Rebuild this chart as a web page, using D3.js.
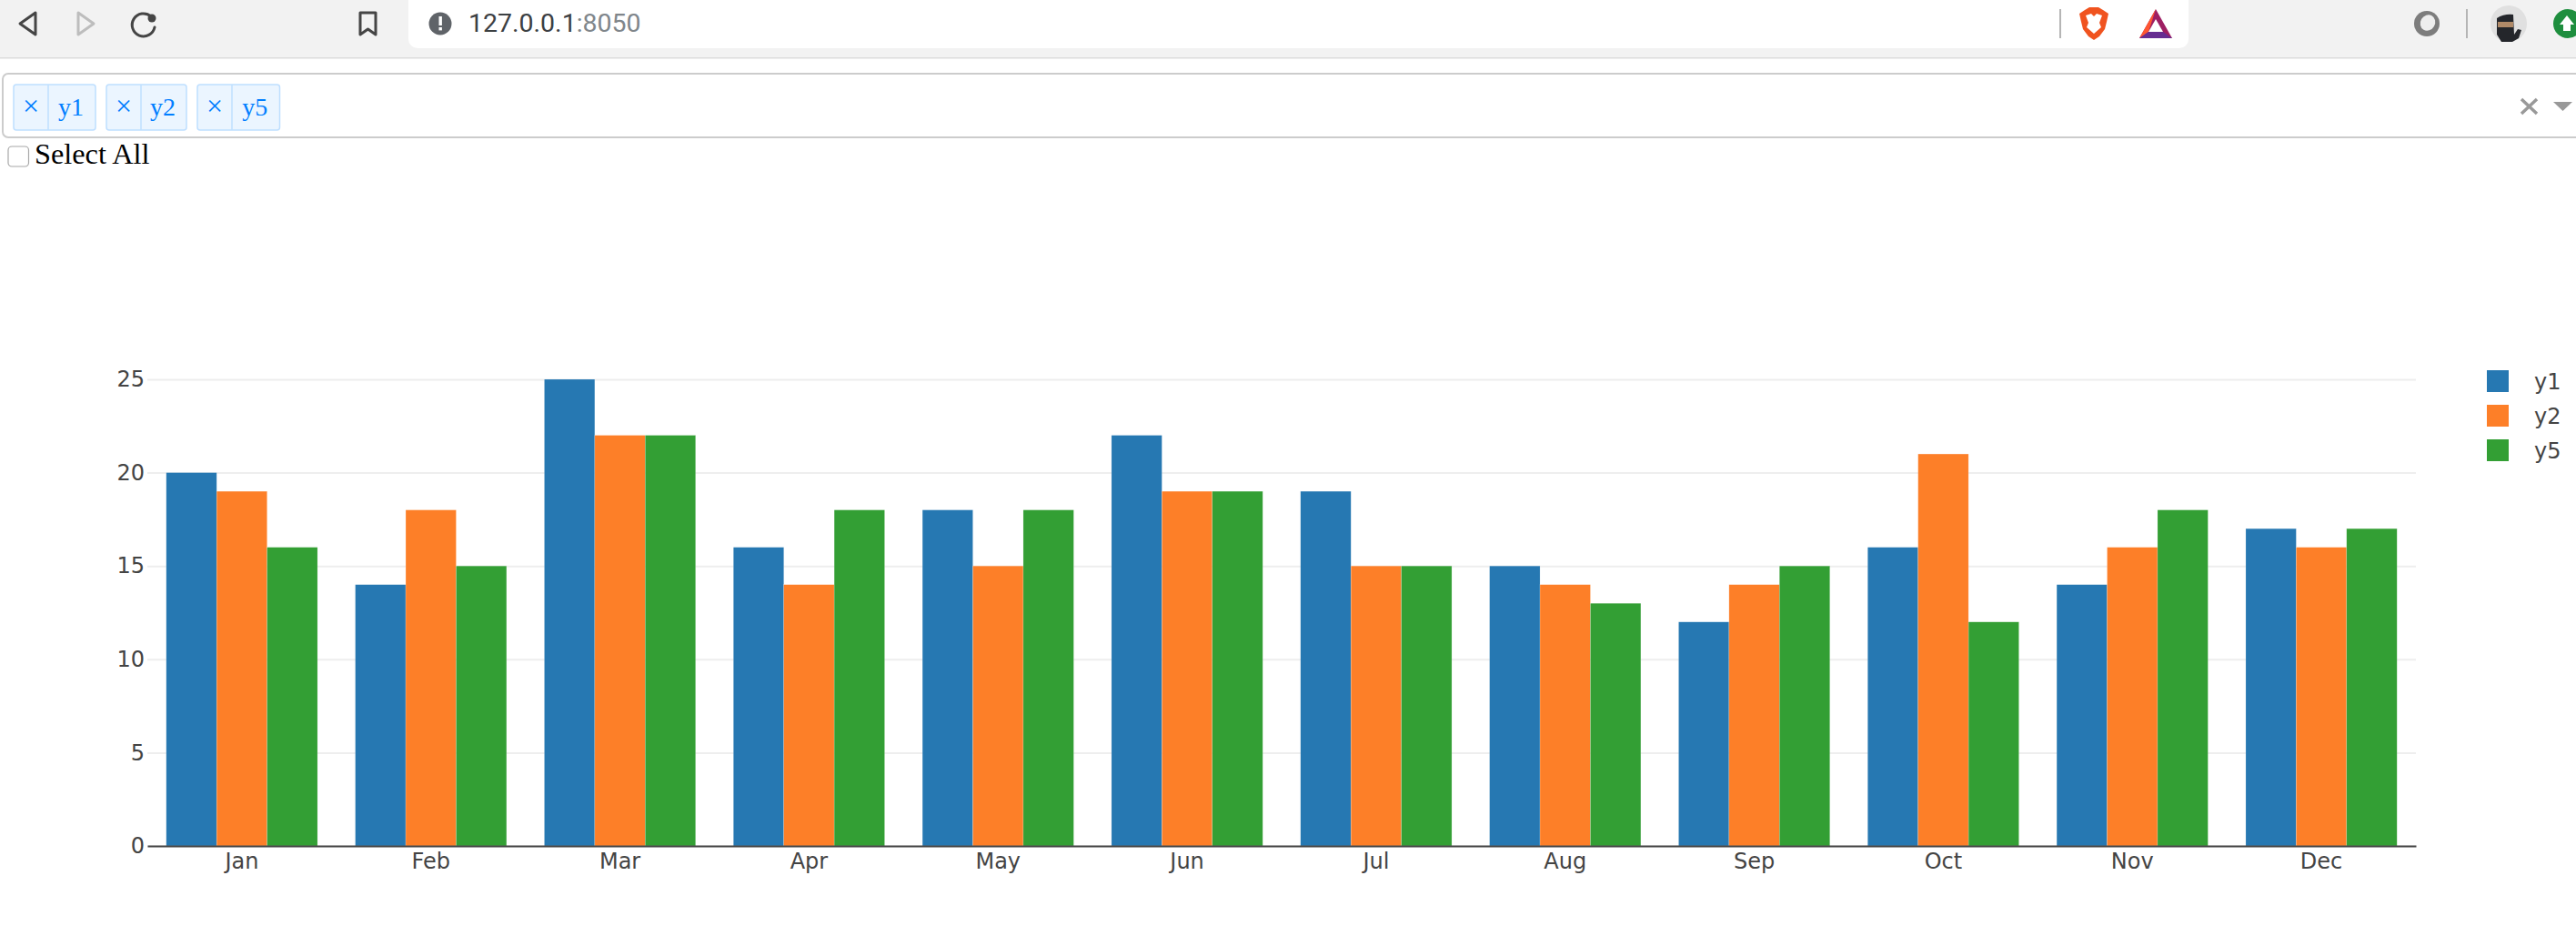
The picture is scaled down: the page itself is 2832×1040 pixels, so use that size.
<!DOCTYPE html>
<html><head><meta charset="utf-8">
<script src="https://cdn.jsdelivr.net/npm/d3@7"></script>
<style>
html,body{margin:0;padding:0;background:#fff;overflow:hidden}
svg{display:block}
.tick text{font-family:"DejaVu Sans",sans-serif;font-size:24px;fill:#444}
</style></head><body>
<svg id="c" width="2832" height="1040"></svg>
<script>
const months=["Jan","Feb","Mar","Apr","May","Jun","Jul","Aug","Sep","Oct","Nov","Dec"];
const seriesNames=["y1","y2","y5"];
const y1=[20,14,25,16,18,22,19,15,12,16,14,17];
const y2=[19,18,22,14,15,19,15,14,14,21,16,16];
const y5=[16,15,22,18,18,19,15,13,15,12,18,17];
const colors=["#2678b2","#fd7f28","#339f34"];
const yTicks=[0,5,10,15,20,25];
const allSeries=[y1,y2,y5];

const svg=d3.select("#c");
// browser chrome
const ch=svg.append("g");
ch.append("rect").attr("width",2832).attr("height",63).attr("fill","#f2f2f2");
ch.append("rect").attr("y",63).attr("width",2832).attr("height",1.5).attr("fill","#dcdcdc");
ch.append("path").attr("d","M449,0H2406V43a10,10 0 0 1 -10,10H459a10,10 0 0 1 -10,-10Z").attr("fill","#fff");
const ic=(d,s,w,f)=>ch.append("path").attr("d",d).attr("fill",f||"none").attr("stroke",s).attr("stroke-width",w).attr("stroke-linejoin","round").attr("stroke-linecap","round");
ic("M39,14 L22,26 L39,38 Z","#454545",3);
ic("M86,14 L103,26 L86,38 Z","#bdbdbd",3);
ic("M166,18 A12.5,12.5 0 1 0 170,30","#454545",3);
ch.append("circle").attr("cx",167).attr("cy",20).attr("r",4.5).attr("fill","#454545");
ic("M396,14 H413 V38 L404.5,32 L396,38 Z","#454545",3);
ch.append("circle").attr("cx",484).attr("cy",26).attr("r",12.5).attr("fill","#5f6368");
ch.append("rect").attr("x",482.5).attr("y",18).attr("width",3.4).attr("height",10).attr("fill","#fff");
ch.append("rect").attr("x",482.5).attr("y",30).attr("width",3.4).attr("height",3.4).attr("fill","#fff");
const url=ch.append("text").attr("x",515).attr("y",35).attr("font-family","Roboto,sans-serif").attr("font-size",28.5);
url.append("tspan").attr("fill","#3c4043").text("127.0.0.1");
url.append("tspan").attr("fill","#80868b").text(":8050");
ch.append("rect").attr("x",2264).attr("y",10).attr("width",2).attr("height",32).attr("fill","#b5b5b5");
ch.append("path").attr("d","M2292,11 L2297,8 H2307 L2312,11 L2318,15 L2316,24 L2314,32 L2308,40 L2302,44 L2296,40 L2290,32 L2288,24 L2286,15 Z").attr("fill","#f0531f");
ch.append("path").attr("d","M2293,17 L2299,15 L2302,18 L2305,15 L2311,17 L2308,25 L2310,30 L2302,37 L2294,30 L2296,25 Z").attr("fill","#fff");
ch.append("path").attr("d","M2370,10 L2352,42 H2388 Z").attr("fill","#9e1f63");
ch.append("path").attr("d","M2370,10 L2352,42 L2362,35 Z").attr("fill","#ff5630");
ch.append("path").attr("d","M2352,42 H2388 L2378,35 H2362 Z").attr("fill","#662d91");
ch.append("path").attr("d","M2370,21 L2378,35 H2362 Z").attr("fill","#fff");
ch.append("circle").attr("cx",2668).attr("cy",26).attr("r",14).attr("fill","#7d7d7d");
ch.append("ellipse").attr("cx",2669).attr("cy",25).attr("rx",8).attr("ry",9).attr("transform","rotate(30 2669 25)").attr("fill","#eee");
ch.append("rect").attr("x",2711).attr("y",10).attr("width",2).attr("height",32).attr("fill","#b5b5b5");
ch.append("ellipse").attr("cx",2758).attr("cy",26).attr("rx",20).attr("ry",20).attr("fill","#e0e0e0");
ch.append("path").attr("d","M2745,20 Q2753,15 2763,16 L2764,38 L2768,32 L2772,33 L2769,42 L2762,46 H2750 L2745,38 Z").attr("fill","#24262b");
ch.append("rect").attr("x",2746).attr("y",24).attr("width",17).attr("height",6).attr("fill","#b08a68");
ch.append("circle").attr("cx",2823).attr("cy",26).attr("r",16).attr("fill","#1e8e3e");
ch.append("path").attr("d","M2822,17 L2830,27 H2826 V34 H2818 V27 H2814 Z").attr("fill","#fff");

// dropdown
const dd=svg.append("g");
dd.append("rect").attr("x",3).attr("y",81).attr("width",2840).attr("height",70).attr("rx",6).attr("fill","#fff").attr("stroke","#ccc").attr("stroke-width",2);
const chipX=[[15,53,105],[117,155,205],[217,255,307.5]];
seriesNames.forEach((n,i)=>{
  const [a,b,c]=chipX[i];
  dd.append("rect").attr("x",a).attr("y",93).attr("width",c-a).attr("height",50).attr("rx",3).attr("fill","#ebf5ff").attr("stroke","#bfdfff").attr("stroke-width",1.5);
  dd.append("line").attr("x1",b).attr("x2",b).attr("y1",93).attr("y2",143).attr("stroke","#bfdfff").attr("stroke-width",1.5);
  dd.append("text").attr("x",(a+b)/2).attr("y",127).attr("text-anchor","middle").attr("font-family","'Liberation Serif',serif").attr("font-size",32).attr("fill","#007eff").text("×");
  dd.append("text").attr("x",(b+c)/2-1).attr("y",127).attr("text-anchor","middle").attr("font-family","'Liberation Serif',serif").attr("font-size",28).attr("fill","#007eff").text(n);
});
dd.append("path").attr("d","M2772,109 L2789,125 M2789,109 L2772,125").attr("stroke","#999").attr("stroke-width",3.5);
dd.append("path").attr("d","M2807,112 H2828 L2817.5,122 Z").attr("fill","#999");
svg.append("rect").attr("x",9).attr("y",161).attr("width",22.5).attr("height",22).attr("rx",4).attr("fill","#fff").attr("stroke","#a8a8a8").attr("stroke-width",1.2);
svg.append("text").attr("x",38).attr("y",180).attr("font-family","'Liberation Serif',serif").attr("font-size",32.3).attr("fill","#000").text("Select All");

// chart
const x=d3.scaleBand().domain(months).range([162,2656]).paddingInner(0.2).paddingOuter(0.1);
const y=d3.scaleLinear().domain([0,25]).range([930,417]);
const x1=d3.scaleBand().domain(seriesNames).range([0,x.bandwidth()]);

const grid=svg.append("g").attr("transform","translate(162,0)")
  .call(d3.axisLeft(y).tickValues(yTicks).tickSize(-2494).tickPadding(3));
grid.select(".domain").remove();
grid.selectAll(".tick line").attr("stroke","#eee").attr("stroke-width",2);
grid.selectAll(".tick text").attr("x",-3);

seriesNames.forEach((n,i)=>{
  svg.append("g").selectAll("rect").data(allSeries[i]).join("rect")
    .attr("x",(d,j)=>x(months[j])+x1(n))
    .attr("y",d=>y(d))
    .attr("width",x1.bandwidth())
    .attr("height",d=>y(0)-y(d))
    .attr("fill",colors[i])
    .attr("stroke","#fff").attr("stroke-opacity",.35).attr("stroke-width",.5);
});

const xa=svg.append("g").attr("transform","translate(0,930)")
  .call(d3.axisBottom(x).tickSize(0).tickPadding(8));
xa.select(".domain").attr("stroke","#444").attr("stroke-width",2);
xa.selectAll(".tick text").attr("dy","0.71em");

const lg=svg.append("g").selectAll("g").data(seriesNames).join("g")
  .attr("transform",(d,i)=>`translate(2734,${407+i*38})`);
lg.append("rect").attr("width",24).attr("height",24).attr("fill",(d,i)=>colors[i]);
lg.append("text").attr("x",52).attr("y",21).attr("font-family","'DejaVu Sans',sans-serif").attr("font-size",24).attr("fill","#444").text(d=>d);
</script>
</body></html>
